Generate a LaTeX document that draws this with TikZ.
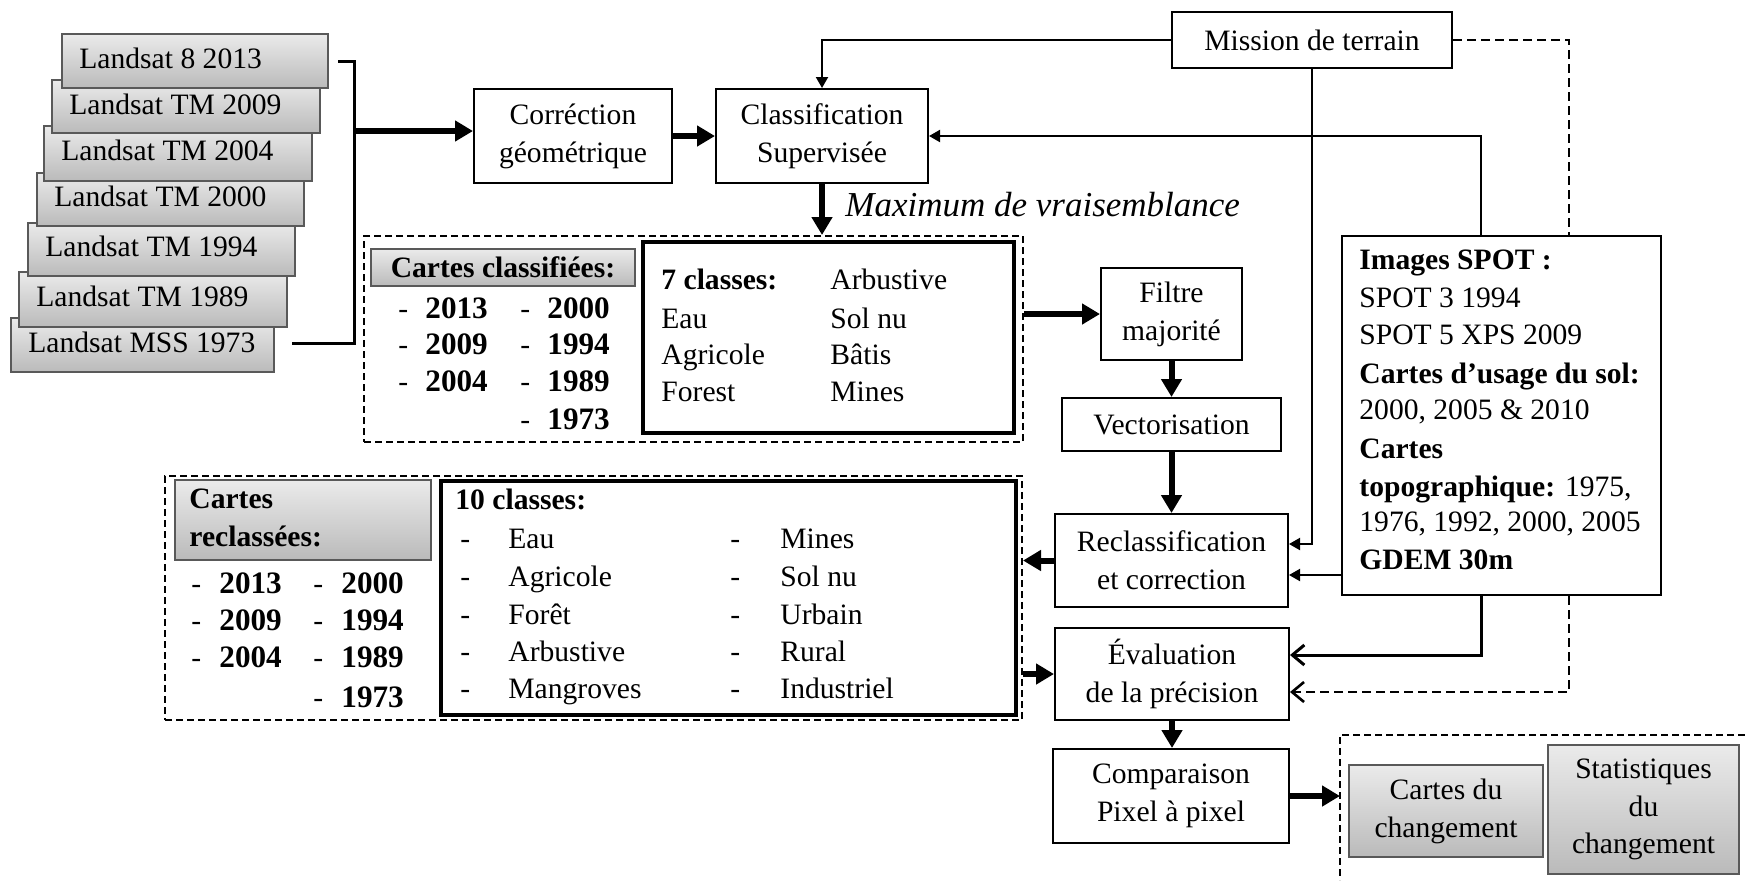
\documentclass[tikz,border=0pt]{standalone}
\usepackage{fontspec}
\setmainfont{Liberation Serif}
\usetikzlibrary{arrows.meta}
\begin{document}
\begin{tikzpicture}[x=0.5pt,y=-0.5pt,
  font=\fontsize{14.8}{19}\selectfont,
  box/.style={draw, line width=1pt, align=center, inner sep=0pt},
  gbox/.style={draw=black!65, line width=0.6pt, top color=black!8, bottom color=black!27, inner sep=0pt},
  cbox/.style={draw, line width=1.6pt, inner sep=0pt},
  dbox/.style={draw, line width=1pt, dash pattern=on 3.5pt off 2pt, inner sep=0pt},
  txt/.style={anchor=west, inner sep=0pt, text height=1.6ex, text depth=0.2ex},
  bigarrow/.style={line width=3pt, -{Triangle[length=9pt,width=10pt]}},
  thinarrow/.style={line width=1pt, -{Triangle[length=5.5pt,width=6pt]}},
  openarrow/.style={-{Straight Barb[length=6pt,width=10pt]}}]
\useasboundingbox (0,0) rectangle (1745,880);

% Landsat stack (bottom first)
\node[gbox, minimum width=131.5pt, minimum height=27pt] (l73) at (142.5,345) {};
\node[txt] (l73t) at (28,346) {Landsat MSS 1973};
\node[gbox, minimum width=134pt, minimum height=27.5pt] (l89) at (153,299.5) {};
\node[txt] (l89t) at (36,300) {Landsat TM 1989};
\node[gbox, minimum width=133.5pt, minimum height=26.5pt] (l94) at (161.5,249.5) {};
\node[txt] (l94t) at (45,250) {Landsat TM 1994};
\node[gbox, minimum width=133.5pt, minimum height=26.5pt] (l00) at (170.5,199.5) {};
\node[txt] (l00t) at (54,200) {Landsat TM 2000};
\node[gbox, minimum width=134pt, minimum height=27.5pt] (l04) at (178,153.5) {};
\node[txt] (l04t) at (61,154) {Landsat TM 2004};
\node[gbox, minimum width=134pt, minimum height=26.5pt] (l09) at (186,106.5) {};
\node[txt] (l09t) at (69,108) {Landsat TM 2009};
\node[gbox, minimum width=133pt, minimum height=27pt] (l13) at (195,61) {};
\node[txt] (l13t) at (79,62) {Landsat 8 2013};

% bracket
\coordinate (bt) at (338,61);
\coordinate (bc) at (354,131);
\coordinate (bb) at (292,343);
\draw[line width=1.5pt] (bt) -| (bc |- bb) -- (bb);

% main boxes
\node[box, minimum width=99pt, minimum height=47pt] (corr) at (573,136) {Corréction\\géométrique};
\node[box, minimum width=106pt, minimum height=47pt] (class) at (822,136) {Classification\\Supervisée};
\node[box, minimum width=140pt, minimum height=28pt] (mis) at (1312,40) {Mission de terrain};
\node[box, minimum width=70.5pt, minimum height=46pt] (filt) at (1171.5,314) {Filtre\\majorité};
\node[box, minimum width=109.5pt, minimum height=26.5pt] (vect) at (1171.5,424.5) {Vectorisation};
\node[box, minimum width=116.5pt, minimum height=46.5pt] (recl) at (1171.5,560.5) {Reclassification\\et correction};
\node[box, minimum width=117pt, minimum height=46pt] (eval) at (1172,674) {Évaluation\\de la précision};
\node[box, minimum width=118pt, minimum height=47pt] (comp) at (1171,796) {Comparaison\\Pixel à pixel};

% dashed connector passes behind the SPOT box
\coordinate (e2) at ([yshift=-9pt]eval.east);
\coordinate (dc) at (1569,40);
\draw[openarrow, line width=1.3pt, dash pattern=on 4.5pt off 2.5pt] (mis.east) -- (dc) |- (e2);

\node[box, fill=white, minimum width=159.5pt, minimum height=179.5pt] (spot) at (1501.5,415.5) {};

\node[txt, font=\fontsize{17.5}{21}\selectfont\itshape] (mdv) at (845,210) {Maximum de vraisemblance};

% SPOT text
\node[txt] (s1) at (1359,263) {\textbf{Images SPOT :}};
\node[txt] (s2) at (1359,301) {SPOT 3 1994};
\node[txt] (s3) at (1359,338) {SPOT 5 XPS 2009};
\node[txt] (s4) at (1359,377) {\textbf{Cartes d’usage du sol:}};
\node[txt] (s5) at (1359,413) {2000, 2005 \& 2010};
\node[txt] (s6) at (1359,452) {\textbf{Cartes}};
\node[txt] (s7) at (1359,490) {\textbf{topographique:} 1975,};
\node[txt] (s8) at (1359,525) {1976, 1992, 2000, 2005};
\node[txt] (s9) at (1359,563) {\textbf{GDEM 30m}};

% dashed group 1
\node[dbox, minimum width=329.5pt, minimum height=103pt] (d1) at (693.5,339) {};
\node[gbox, minimum width=132pt, minimum height=18.5pt] (cc) at (503,267.5) {\textbf{Cartes classifiées:}};
\foreach \n/\x/\y in {2013/425/312, 2009/425/348, 2004/425/385, 2000/547/312, 1994/547/348, 1989/547/385, 1973/547/423} {
  \node[txt] (cd\n) at ({\x-27},\y) {-};
  \node[txt, font=\fontsize{15.6}{19}\selectfont] (cy\n) at (\x,\y) {\textbf{\n}};
}
\node[cbox, minimum width=185.5pt, minimum height=95.5pt] (c7) at (828.5,337.5) {};
\node[txt] (k1) at (661,283) {\textbf{7 classes:}};
\node[txt] (k2) at (661,322) {Eau};
\node[txt] (k3) at (661,358) {Agricole};
\node[txt] (k4) at (661,395) {Forest};
\node[txt] (k5) at (830,283) {Arbustive};
\node[txt] (k6) at (830,322) {Sol nu};
\node[txt] (k7) at (830,358) {Bâtis};
\node[txt] (k8) at (830,395) {Mines};

% dashed group 2
\node[dbox, minimum width=428.5pt, minimum height=122pt] (d2) at (593.5,598) {};
\node[gbox, minimum width=128pt, minimum height=40pt] (cr) at (303,520) {};
\node[txt] (cr1) at (189,502) {\textbf{Cartes}};
\node[txt] (cr2) at (189,540) {\textbf{reclassées:}};
\foreach \n/\x/\y in {2013/219/587, 2009/219/624, 2004/219/661, 2000/341/587, 1994/341/624, 1989/341/661, 1973/341/701} {
  \node[txt] (rd\n) at ({\x-28},\y) {-};
  \node[txt, font=\fontsize{15.6}{19}\selectfont] (ry\n) at (\x,\y) {\textbf{\n}};
}
\node[cbox, minimum width=287.5pt, minimum height=117pt] (c10) at (728.5,598) {};
\node[txt] (t0) at (455,503) {\textbf{10 classes:}};
\foreach \i/\a/\b/\y in {1/Eau/Mines/542, 2/Agricole/Sol nu/580, 3/Forêt/Urbain/618, 4/Arbustive/Rural/655, 5/Mangroves/Industriel/692} {
  \node[txt] (ta\i) at (460,\y) {-};
  \node[txt] (tb\i) at (508,\y) {\a};
  \node[txt] (tc\i) at (730,\y) {-};
  \node[txt] (td\i) at (780,\y) {\b};
}

% dashed group 3 (cut by the edge)
\coordinate (d3tr) at (1745,735);
\coordinate (d3tl) at (1340,735);
\coordinate (d3bl) at (1340,880);
\draw[line width=1pt, dash pattern=on 3.5pt off 2pt] (d3tr) -- (d3tl) -- (d3bl);
\node[gbox, minimum width=97pt, minimum height=46pt, align=center] (chg) at (1446,811) {Cartes du\\changement};
\node[gbox, minimum width=95.5pt, minimum height=64.5pt, align=center, font=\fontsize{14.8}{18.75}\selectfont] (stat) at (1643.5,809.5) {Statistiques\\du\\changement};

% connectors
\draw[bigarrow] (bc) -- (bc -| corr.west);
\draw[bigarrow] (corr.east) -- (class.west);
\draw[thinarrow] (mis.west) -| (class.north);
\draw[bigarrow] (class.south) -- (class.south |- d1.north);
\coordinate (r1) at ([yshift=8.25pt]recl.east);
\coordinate (r2) at ([yshift=-7.25pt]recl.east);
\draw[thinarrow] (mis.south) |- (r1);
\draw[thinarrow] ([xshift=-10.25pt]spot.north) |- (class.east);
\draw[thinarrow] (r2 -| spot.west) -- (r2);
\coordinate (e1) at ([yshift=9.5pt]eval.east);
\draw[openarrow, line width=1.5pt] ([xshift=-10.25pt]spot.south) |- (e1);
\draw[bigarrow] (d1.east |- filt.west) -- (filt.west);
\draw[bigarrow] (filt.south) -- (vect.north);
\draw[bigarrow] (vect.south) -- (recl.north);
\draw[bigarrow] (recl.west) -- (recl.west -| d2.east);
\draw[bigarrow] (d2.east |- eval.west) -- (eval.west);
\draw[bigarrow] (eval.south) -- (eval.south |- comp.north);
\draw[bigarrow] (comp.east) -- (comp.east -| d3tl);
\end{tikzpicture}
\end{document}
